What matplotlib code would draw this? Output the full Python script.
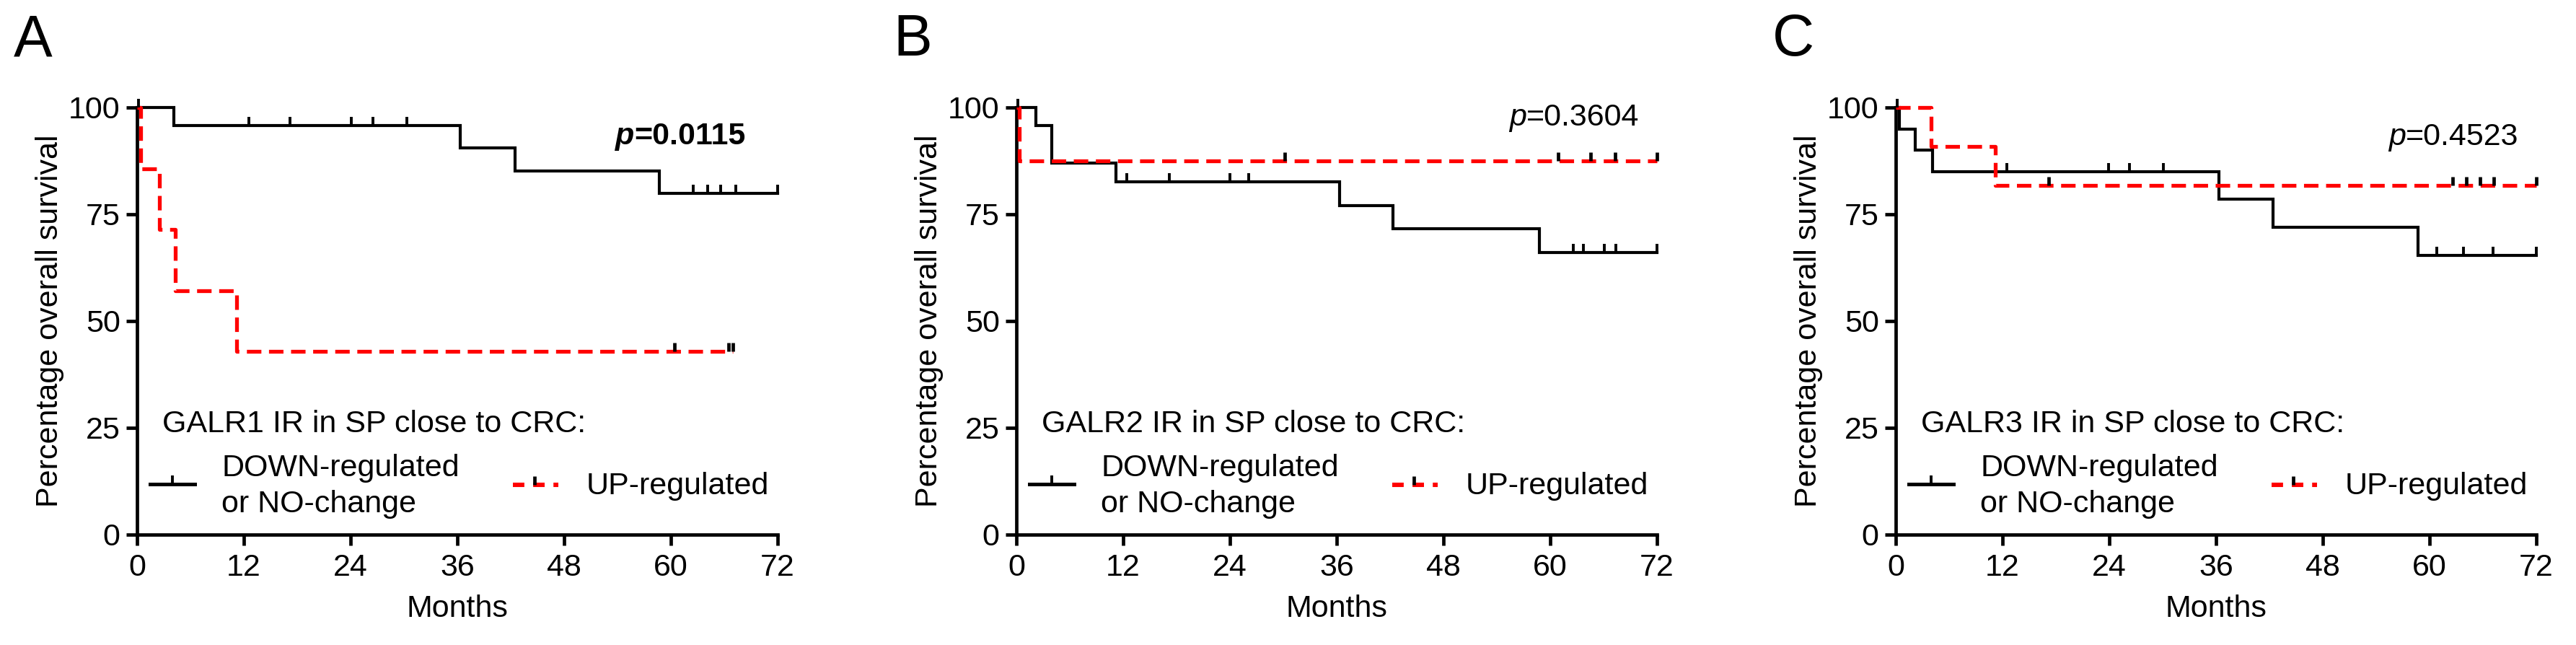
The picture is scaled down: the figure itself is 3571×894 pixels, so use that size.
import numpy as np
import matplotlib
matplotlib.use("Agg")
import matplotlib.pyplot as plt

plt.rcParams['font.family'] = ['Liberation Sans', 'DejaVu Sans']

# ---------------- data ----------------
months_ticks = [0, 12, 24, 36, 48, 60, 72]
surv_ticks = [0, 25, 50, 75, 100]

# Panel A : GALR1
A_down_times = [0, 4.1, 36.3, 42.5, 58.7, 72]
A_down_surv = [100, 95.8, 90.5, 85.2, 79.9, 79.9]
A_down_cens = [0.2, 12.6, 17.2, 24.1, 26.5, 30.3, 62.5, 64.1, 65.6, 67.3, 72]
A_up_times = [0, 0.4, 2.5, 4.3, 11.2, 67.0]
A_up_surv = [100, 85.7, 71.4, 57.1, 42.9, 42.9]
A_up_cens = [60.4, 66.5, 66.95]

# Panel B : GALR2
B_down_times = [0, 2.2, 4.0, 11.2, 36.3, 42.3, 58.8, 72]
B_down_surv = [100, 95.7, 87.0, 82.6, 77.1, 71.6, 66.1, 66.1]
B_down_cens = [0.2, 12.4, 17.2, 24.0, 26.1, 62.6, 63.7, 66.1, 67.4, 72]
B_up_times = [0, 0.3, 72]
B_up_surv = [100, 87.5, 87.5]
B_up_cens = [30.2, 60.9, 64.5, 67.3, 72]

# Panel C : GALR3
C_down_times = [0, 0.4, 2.2, 4.1, 36.3, 42.4, 58.7, 72]
C_down_surv = [100, 95.0, 90.0, 85.0, 78.5, 71.9, 65.4, 65.4]
C_down_cens = [0.2, 12.5, 23.9, 26.3, 30.1, 60.8, 63.8, 67.1, 72]
C_up_times = [0, 4.0, 11.2, 72]
C_up_surv = [100, 90.9, 81.8, 81.8]
C_up_cens = [17.2, 62.6, 64.1, 65.7, 67.2, 72]

panel_letters = ['A', 'B', 'C']
receptors = ['GALR1', 'GALR2', 'GALR3']
p_values = ['=0.0115', '=0.3604', '=0.4523']
p_bold = [True, False, False]
down_label = ['DOWN-regulated', 'or NO-change']
up_label = 'UP-regulated'

panels = [
    (A_down_times, A_down_surv, A_down_cens, A_up_times, A_up_surv, A_up_cens),
    (B_down_times, B_down_surv, B_down_cens, B_up_times, B_up_surv, B_up_cens),
    (C_down_times, C_down_surv, C_down_cens, C_up_times, C_up_surv, C_up_cens),
]

# ---------------- layout / style ----------------
W, H = 3571, 894
fig = plt.figure(figsize=(W / 100, H / 100), dpi=100)

ax_left_px = [190, 1409, 2628]
ax_w_px = 888
ax_bottom_px = 741
ax_top_px = 149
p_split = [0.776, 0.796, 0.796]
p_base = [0.914, 0.958, 0.912]

FS = 31
LW_BLACK = 3.0
LW_RED = 3.8
LW_SPINE = 3.4
RED = '#ff0000'
DASH = (0, (3.8, 2.0))
MS = 8.5


def step_value(times, surv, t):
    idx = np.searchsorted(np.asarray(times), np.asarray(t), side='right') - 1
    idx = np.clip(idx, 0, len(surv) - 1)
    return np.asarray(surv)[idx]


for i, (dt, ds, dc, ut, us, uc) in enumerate(panels):
    ax = fig.add_axes([ax_left_px[i] / W, 1 - ax_bottom_px / H,
                       ax_w_px / W, (ax_bottom_px - ax_top_px) / H])
    ax.set_xlim(0, 72)
    ax.set_ylim(0, 100)

    # curves
    ax.step(dt, ds, where='post', color='black', lw=LW_BLACK, clip_on=False,
            solid_joinstyle='miter', zorder=3)
    ax.step(ut, us, where='post', color=RED, lw=LW_RED, ls=DASH,
            dash_capstyle='butt', clip_on=False, zorder=4)
    # censor ticks
    ax.plot(dc, step_value(dt, ds, dc), ls='none', marker=2, ms=MS,
            mew=2.8, color='black', clip_on=False, zorder=5)
    ax.plot(uc, step_value(ut, us, uc), ls='none', marker=2, ms=MS,
            mew=3.4, color='black', clip_on=False, zorder=5)

    # axes styling
    for s in ['top', 'right']:
        ax.spines[s].set_visible(False)
    for s in ['left', 'bottom']:
        ax.spines[s].set_linewidth(LW_SPINE)
    ax.set_xticks(months_ticks)
    ax.set_yticks(surv_ticks)
    ax.tick_params(axis='both', length=10.8, width=LW_SPINE, labelsize=FS,
                   direction='out')
    ax.tick_params(axis='x', pad=8)
    ax.tick_params(axis='y', pad=6)
    ax.set_xlabel('Months', fontsize=FS, labelpad=12)
    ax.set_ylabel('Percentage overall survival', fontsize=FS, labelpad=4)

    # p-value
    ax.text(p_split[i], p_base[i], 'p', transform=ax.transAxes, fontsize=FS,
            style='italic', fontweight='bold' if p_bold[i] else 'normal',
            ha='right', va='baseline')
    ax.text(p_split[i], p_base[i], p_values[i], transform=ax.transAxes,
            fontsize=FS, fontweight='bold' if p_bold[i] else 'normal',
            ha='left', va='baseline')

    # legend (manual, GraphPad style)
    ax.text(0.039, 0.240, f'{receptors[i]} IR in SP close to CRC:',
            transform=ax.transAxes, fontsize=FS, ha='left', va='baseline')
    ax.plot([0.020, 0.090], [0.118, 0.118], transform=ax.transAxes,
            color='black', lw=LW_BLACK + 0.6, clip_on=False)
    ax.plot([0.055], [0.118], transform=ax.transAxes, ls='none', marker=2,
            ms=MS, mew=2.8, color='black', clip_on=False)
    ax.text(0.132, 0.137, down_label[0], transform=ax.transAxes, fontsize=FS,
            ha='left', va='baseline')
    ax.text(0.132, 0.052, down_label[1], transform=ax.transAxes, fontsize=FS,
            ha='left', va='baseline')
    ax.plot([0.587, 0.658], [0.117, 0.117], transform=ax.transAxes,
            color=RED, lw=LW_RED + 0.6, ls=(0, (2.6, 2.0)),
            dash_capstyle='butt', clip_on=False)
    ax.plot([0.620], [0.117], transform=ax.transAxes, ls='none', marker=2,
            ms=MS, mew=3.4, color='black', clip_on=False)
    ax.text(0.701, 0.095, up_label, transform=ax.transAxes, fontsize=FS,
            ha='left', va='baseline')

    # panel letter
    fig.text((ax_left_px[i] - 171) / W, 1 - 18 / H, panel_letters[i],
             fontsize=58, ha='left', va='top')

fig.savefig('out.png', dpi=100)
